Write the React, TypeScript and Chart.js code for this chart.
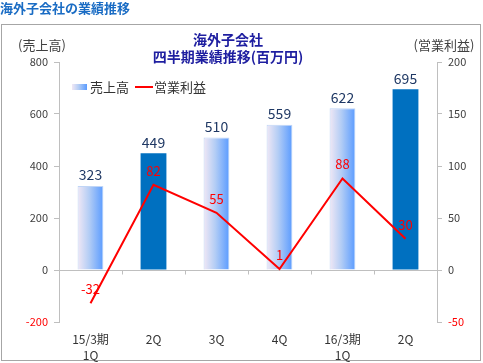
import React, { useEffect, useRef } from 'react';
import { Chart, registerables } from 'chart.js';

Chart.register(...registerables);

const categories: (string | string[])[] = [['15/3期', '1Q'], '2Q', '3Q', '4Q', ['16/3期', '1Q'], '2Q'];
const sales = [323, 449, 510, 559, 622, 695];
const profit = [-32, 82, 55, 1, 88, 30];
const solidBars = [false, true, false, false, false, true];
const seriesNames = ['売上高', '営業利益'];
const pageTitle = '海外子会社の業績推移';
const chartTitle = ['海外子会社', '四半期業績推移(百万円)'];
const leftAxisTitle = '(売上高)';
const rightAxisTitle = '(営業利益)';
const leftRange = { min: -200, max: 800, step: 200 };
const rightRange = { min: -50, max: 200, step: 50 };

const FONT = '"Noto Sans CJK JP", "Noto Sans", sans-serif';
const BAR_PCT = 0.41;

function barGradient(ctx: CanvasRenderingContext2D, x0: number, x1: number) {
  const g = ctx.createLinearGradient(x0, 0, x1, 0);
  g.addColorStop(0, '#f1e8f5');
  g.addColorStop(0.45, '#b3cdf5');
  g.addColorStop(1, '#5a9bff');
  return g;
}

const decorPlugin = {
  id: 'decor',
  beforeDraw(chart: any) {
    const ctx: CanvasRenderingContext2D = chart.ctx;
    ctx.save();
    ctx.fillStyle = '#ffffff';
    ctx.fillRect(0, 0, chart.width, chart.height);
    // page title
    ctx.fillStyle = '#1a6cc4';
    ctx.font = `bold 13px ${FONT}`;
    ctx.textAlign = 'left';
    ctx.textBaseline = 'middle';
    ctx.fillText(pageTitle, 0, 8);
    // frame
    ctx.strokeStyle = '#a6a6a6';
    ctx.lineWidth = 1;
    ctx.strokeRect(1.5, 24.5, 479, 336);
    // chart title
    ctx.fillStyle = '#1e1ea0';
    ctx.font = `bold 14px ${FONT}`;
    ctx.textAlign = 'center';
    ctx.fillText(chartTitle[0], 228, 40);
    ctx.fillText(chartTitle[1], 228, 57);
    // axis titles
    ctx.fillStyle = '#404040';
    ctx.font = `13px ${FONT}`;
    ctx.fillText(leftAxisTitle, 42, 45);
    ctx.fillText(rightAxisTitle, 444, 45);
    // legend
    ctx.fillStyle = barGradient(ctx, 72, 87);
    ctx.fillRect(72, 84, 15, 6);
    ctx.fillStyle = '#333333';
    ctx.textAlign = 'left';
    ctx.fillText(seriesNames[0], 90, 87);
    ctx.strokeStyle = '#ff0000';
    ctx.lineWidth = 2;
    ctx.beginPath();
    ctx.moveTo(135, 87);
    ctx.lineTo(153, 87);
    ctx.stroke();
    ctx.fillText(seriesNames[1], 154, 87);
    ctx.restore();
  },
  beforeDatasetsDraw(chart: any) {
    const ctx: CanvasRenderingContext2D = chart.ctx;
    const xs = chart.scales.x;
    const y0 = Math.round(chart.scales.y.getPixelForValue(0)) + 0.5;
    const area = chart.chartArea;
    ctx.save();
    ctx.strokeStyle = '#bfbfbf';
    ctx.lineWidth = 1;
    ctx.beginPath();
    ctx.moveTo(area.left, y0);
    ctx.lineTo(area.right, y0);
    for (let i = 0; i < categories.length - 1; i++) {
      const bx = Math.round((xs.getPixelForValue(i) + xs.getPixelForValue(i + 1)) / 2) + 0.5;
      ctx.moveTo(bx, y0);
      ctx.lineTo(bx, y0 + 4);
    }
    ctx.stroke();
    ctx.restore();
  },
  afterDatasetsDraw(chart: any) {
    const ctx: CanvasRenderingContext2D = chart.ctx;
    ctx.save();
    ctx.textAlign = 'center';
    const barMeta = chart.getDatasetMeta(0);
    ctx.fillStyle = '#1f3864';
    ctx.font = `14px ${FONT}`;
    ctx.textBaseline = 'middle';
    barMeta.data.forEach((el: any, i: number) => {
      ctx.fillText(String(sales[i]), el.x, el.y - 11);
    });
    const lineMeta = chart.getDatasetMeta(1);
    ctx.fillStyle = '#ff0000';
    ctx.font = `13px ${FONT}`;
    lineMeta.data.forEach((el: any, i: number) => {
      ctx.fillText(String(profit[i]), el.x, el.y - 14);
    });
    ctx.restore();
  },
};

export default function App() {
  const ref = useRef<HTMLCanvasElement>(null);
  useEffect(() => {
    if (!ref.current) return;
    const tickColor = (c: any) => (c.tick && c.tick.value < 0 ? '#ff0000' : '#404040');
    const chart = new Chart(ref.current, {
      type: 'bar',
      data: {
        labels: categories,
        datasets: [
          {
            type: 'bar',
            label: seriesNames[0],
            data: sales,
            yAxisID: 'y',
            order: 1,
            barPercentage: BAR_PCT,
            categoryPercentage: 1,
            borderWidth: (c: any) => (typeof c.dataIndex === 'number' && !solidBars[c.dataIndex] ? 1 : 0),
            borderColor: 'rgba(185,208,245,0.9)',
            backgroundColor: (c: any) => {
              const i = c.dataIndex;
              if (typeof i !== 'number') return '#9ec3f7';
              if (solidBars[i]) return '#0070c0';
              const xs = c.chart.scales.x;
              if (!xs || !c.chart.chartArea) return '#9ec3f7';
              const cx = xs.getPixelForValue(i);
              const half = (xs.width / categories.length) * BAR_PCT / 2;
              if (!isFinite(cx)) return '#9ec3f7';
              return barGradient(c.chart.ctx, cx - half, cx + half);
            },
          } as any,
          {
            type: 'line',
            label: seriesNames[1],
            data: profit,
            yAxisID: 'y1',
            order: 0,
            borderColor: '#ff0000',
            borderWidth: 2,
            pointRadius: 0,
            tension: 0,
          } as any,
        ],
      },
      options: {
        responsive: false,
        animation: false,
        layout: { padding: { top: 62, left: 0, right: 0, bottom: 0 } },
        plugins: { legend: { display: false }, title: { display: false }, tooltip: { enabled: false } },
        scales: {
          x: {
            offset: true,
            grid: { display: false, drawTicks: false },
            border: { display: false },
            ticks: { color: '#333333', font: { family: FONT, size: 12, lineHeight: 1.33 } as any, padding: 9, maxRotation: 0, autoSkip: false },
            afterFit: (s: any) => { s.height = 41; },
          },
          y: {
            position: 'left',
            min: leftRange.min,
            max: leftRange.max,
            ticks: { stepSize: leftRange.step, color: tickColor, font: { family: FONT, size: 11 }, padding: 6 },
            grid: { drawOnChartArea: false, drawTicks: true, tickLength: 5, color: '#bfbfbf' },
            border: { color: '#bfbfbf' },
            afterFit: (s: any) => { s.width = 59; },
          },
          y1: {
            position: 'right',
            min: rightRange.min,
            max: rightRange.max,
            ticks: { stepSize: rightRange.step, color: tickColor, font: { family: FONT, size: 11 }, padding: 6 },
            grid: { drawOnChartArea: false, drawTicks: true, tickLength: 5, color: '#bfbfbf' },
            border: { color: '#bfbfbf' },
            afterFit: (s: any) => { s.width = 46; },
          },
        },
      } as any,
      plugins: [decorPlugin],
    });
    return () => chart.destroy();
  }, []);
  return (
    <div style={{ position: 'absolute', left: 0, top: 0, width: 483, height: 363 }}>
      <canvas ref={ref} width={483} height={363} style={{ display: 'block' }} />
    </div>
  );
}
